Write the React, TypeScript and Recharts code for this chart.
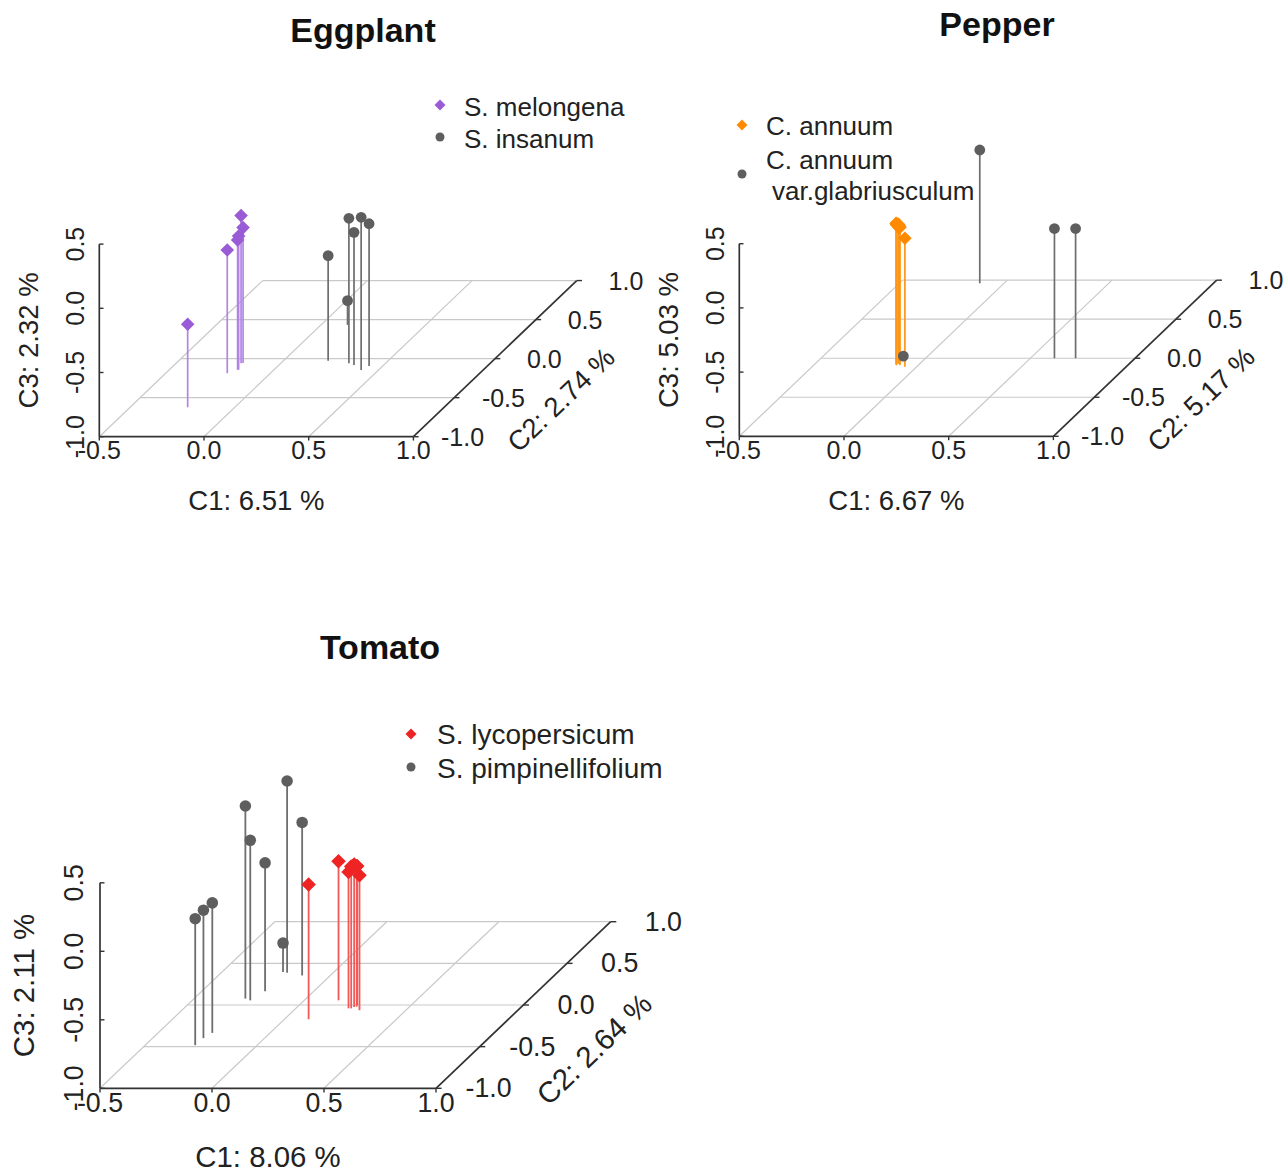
import React from "react";
import { ScatterChart, Scatter, XAxis, YAxis, ReferenceLine, ReferenceDot } from "recharts";

type P3 = [number, number, number]; // [C1, C2, C3]

// axis ticks shared by all three panels
const ticksC1 = [-0.5, 0, 0.5, 1];
const ticksC2 = [-1, -0.5, 0, 0.5, 1];
const ticksC3 = [-1, -0.5, 0, 0.5];

// --- Eggplant ---
const melongena: P3[] = [
  [-0.225, -0.623, -0.354],
  [-0.206, -0.187, -0.04],
  [-0.173, -0.145, 0.012],
  [-0.17, -0.14, 0.04],
  [-0.19, -0.059, 0.15],
  [-0.182, -0.055, 0.054],
];
const insanum: P3[] = [
  [0.213, -0.026, -0.182],
  [0.325, -0.059, 0.129],
  [0.358, -0.081, 0.033],
  [0.417, -0.145, 0.189],
  [0.435, -0.094, 0.108],
  [0.127, 0.432, -0.811],
];

// --- Pepper ---
const annuum: P3[] = [
  [-0.106, -0.064, 0.083],
  [-0.089, -0.086, 0.072],
  [-0.057, -0.108, 0.0],
  [-0.11, -0.08, 0.1],
  [-0.1, -0.07, 0.06],
  [-0.112, -0.07, 0.09],
  [-0.097, -0.075, 0.08],
  [-0.104, -0.09, 0.095],
];
const glabriusculum: P3[] = [
  [-0.116, 0.96, 0.038],
  [0.615, 0.0, 0.01],
  [0.716, 0.0, 0.01],
  [-0.098, -0.022, -0.97],
];

// --- Tomato ---
const lycopersicum: P3[] = [
  [0.108, -0.171, -0.016],
  [0.153, 0.056, 0.015],
  [0.235, -0.04, -0.005],
  [0.254, -0.024, 0.04],
  [0.258, 0.0, 0.015],
  [0.293, -0.063, -0.015],
  [0.247, -0.04, 0.036],
  [0.264, -0.02, 0.025],
];
const pimpinellifolium: P3[] = [
  [-0.277, -0.482, -0.077],
  [-0.273, -0.398, -0.066],
  [-0.258, -0.335, -0.051],
  [-0.271, 0.077, 0.406],
  [-0.241, 0.056, 0.168],
  [-0.217, 0.164, -0.062],
  [-0.206, 0.388, 0.399],
  [-0.227, 0.395, -0.788],
  [-0.126, 0.355, 0.117],
];

// oblique projection of the C2 axis (scatterplot3d style)
const KX = 0.39;
const KY = 0.608;
const proj = (x: number, y: number, z: number) => ({ u: x + KX * (y + 1), v: z + KY * (y + 1) });

const FONT = '"Liberation Sans", Arial, Helvetica, sans-serif';
const fmt = (n: number) => n.toFixed(1);

type Series = { name: string; color: string; lineColor: string; marker: "diamond" | "circle"; data: P3[] };
type PanelCfg = {
  left: number; top: number; width: number; height: number;
  ox: number; oy: number; ex: number; ez: number;
  labels: [string, string, string];
  series: Series[];
};

const Diamond = (cx: number, cy: number, r: number, fill: string) => (
  <polygon points={`${cx},${cy - r} ${cx + r},${cy} ${cx},${cy + r} ${cx - r},${cy}`} fill={fill} />
);

function textShape(label: string, size: number, rotate = 0) {
  return (props: any) => {
    const { cx, cy } = props;
    return (
      <text
        x={cx}
        y={cy}
        textAnchor="middle"
        dominantBaseline="central"
        fontSize={size}
        fontFamily={FONT}
        fill="#222"
        transform={rotate ? `rotate(${rotate} ${cx} ${cy})` : undefined}
      >
        {label}
      </text>
    );
  };
}

function Panel({ cfg }: { cfg: PanelCfg }) {
  const s = cfg.ex / 209.4;
  const umin = -0.5 - cfg.ox / cfg.ex;
  const umax = umin + cfg.width / cfg.ex;
  const vmax = -1 + cfg.oy / cfg.ez;
  const vmin = vmax - cfg.height / cfg.ez;

  const seg = (a: { u: number; v: number }, b: { u: number; v: number }) => [
    { x: a.u, y: a.v },
    { x: b.u, y: b.v },
  ];

  const grid = [
    ...[-0.5, 0, 0.5, 1].map((y) => seg(proj(-0.5, y, -1), proj(1, y, -1))),
    ...[-0.5, 0, 0.5].map((x) => seg(proj(x, -1, -1), proj(x, 1, -1))),
  ];
  const axes = [
    seg(proj(-0.5, -1, -1), proj(1, -1, -1)),
    seg(proj(-0.5, -1, -1), proj(-0.5, -1, 0.5)),
    seg(proj(1, -1, -1), proj(1, 1, -1)),
  ];
  const tickSegs = [
    ...ticksC1.map((t) => { const p = proj(t, -1, -1); return seg(p, { u: p.u, v: p.v - 0.03 }); }),
    ...ticksC3.map((t) => { const p = proj(-0.5, -1, t); return seg(p, { u: p.u + 0.02, v: p.v }); }),
    ...ticksC2.map((t) => { const p = proj(1, t, -1); return seg(p, { u: p.u + 0.025, v: p.v }); }),
  ];
  const yMid = proj(1, 0, -1);
  const yAngle = (-Math.atan2(KY * cfg.ez, KX * cfg.ex) * 180) / Math.PI;

  return (
    <div style={{ position: "absolute", left: cfg.left, top: cfg.top }}>
      <ScatterChart width={cfg.width} height={cfg.height} margin={{ top: 0, right: 0, bottom: 0, left: 0 }}>
        <XAxis type="number" dataKey="u" domain={[umin, umax]} allowDataOverflow hide />
        <YAxis type="number" dataKey="v" domain={[vmin, vmax]} allowDataOverflow hide />

        {grid.map((sg, i) => (
          <ReferenceLine key={`g${i}`} segment={sg} stroke="#c9c9c9" strokeWidth={1.2} ifOverflow="visible" />
        ))}
        {axes.map((sg, i) => (
          <ReferenceLine key={`a${i}`} segment={sg} stroke="#333" strokeWidth={1.7} ifOverflow="visible" />
        ))}
        {tickSegs.map((sg, i) => (
          <ReferenceLine key={`t${i}`} segment={sg} stroke="#333" strokeWidth={1.4} ifOverflow="visible" />
        ))}

        {cfg.series.map((sr) =>
          sr.data.map(([x, y, z], i) => (
            <ReferenceLine
              key={`${sr.name}-h${i}`}
              segment={seg(proj(x, y, -1), proj(x, y, z))}
              stroke={sr.lineColor}
              strokeWidth={1.7 * s}
              ifOverflow="visible"
            />
          ))
        )}

        {ticksC1.map((t) => {
          const p = proj(t, -1, -1);
          return <ReferenceDot key={`lx${t}`} x={p.u} y={p.v - 0.105} ifOverflow="visible" shape={textShape(fmt(t), 25 * s)} />;
        })}
        {ticksC3.map((t) => {
          const p = proj(-0.5, -1, t);
          return <ReferenceDot key={`lz${t}`} x={p.u - 0.115} y={p.v} ifOverflow="visible" shape={textShape(fmt(t), 25 * s, -90)} />;
        })}
        {ticksC2.map((t) => {
          const p = proj(1, t, -1);
          return <ReferenceDot key={`ly${t}`} x={p.u + 0.235} y={p.v} ifOverflow="visible" shape={textShape(fmt(t), 25 * s)} />;
        })}

        <ReferenceDot x={0.25} y={-1.5} ifOverflow="visible" shape={textShape(cfg.labels[0], 27.5 * s)} />
        <ReferenceDot x={yMid.u + 0.315} y={yMid.v - 0.32} ifOverflow="visible" shape={textShape(cfg.labels[1], 27.5 * s, yAngle)} />
        <ReferenceDot x={-0.84} y={-0.25} ifOverflow="visible" shape={textShape(cfg.labels[2], 27.5 * s, -90)} />

        {cfg.series.map((sr) => (
          <Scatter
            key={sr.name}
            name={sr.name}
            data={sr.data.map(([x, y, z]) => proj(x, y, z))}
            isAnimationActive={false}
            shape={(p: any) =>
              sr.marker === "diamond" ? (
                Diamond(p.cx, p.cy, 6.8 * s, sr.color)
              ) : (
                <circle cx={p.cx} cy={p.cy} r={5.4 * s} fill={sr.color} />
              )
            }
          />
        ))}
      </ScatterChart>
    </div>
  );
}

const PURPLE = "#9a5cd6";
const GRAY = "#5e5e5e";
const ORANGE = "#ff8a00";
const RED = "#ee2424";

const eggplant: PanelCfg = {
  left: 0, top: 0, width: 643, height: 545, ox: 99.3, oy: 436.7, ex: 209.4, ez: 128.4,
  labels: ["C1: 6.51 %", "C2: 2.74 %", "C3: 2.32 %"],
  series: [
    { name: "S. melongena", color: PURPLE, lineColor: "#b384e6", marker: "diamond", data: melongena },
    { name: "S. insanum", color: GRAY, lineColor: "#6e6e6e", marker: "circle", data: insanum },
  ],
};
const pepper: PanelCfg = {
  left: 643, top: 0, width: 644, height: 545, ox: 96.3, oy: 436.3, ex: 209.4, ez: 128.4,
  labels: ["C1: 6.67 %", "C2: 5.17 %", "C3: 5.03 %"],
  series: [
    { name: "C. annuum", color: ORANGE, lineColor: "#ff9416", marker: "diamond", data: annuum },
    { name: "C. annuum var.glabriusculum", color: GRAY, lineColor: "#6e6e6e", marker: "circle", data: glabriusculum },
  ],
};
const tomato: PanelCfg = {
  left: 0, top: 570, width: 700, height: 605, ox: 100, oy: 518.3, ex: 224, ez: 137,
  labels: ["C1: 8.06 %", "C2: 2.64 %", "C3: 2.11 %"],
  series: [
    { name: "S. lycopersicum", color: RED, lineColor: "#f25a5a", marker: "diamond", data: lycopersicum },
    { name: "S. pimpinellifolium", color: GRAY, lineColor: "#6e6e6e", marker: "circle", data: pimpinellifolium },
  ],
};

function Title({ text, cx, cy }: { text: string; cx: number; cy: number }) {
  return (
    <div style={{ position: "absolute", left: cx - 150, top: cy - 17, width: 300, textAlign: "center", fontFamily: FONT, fontWeight: 700, fontSize: 34, lineHeight: "34px", color: "#111" }}>
      {text}
    </div>
  );
}

function LegendItem({ x, y, marker, color, lines, size }: {
  x: number; y: number; marker: "diamond" | "circle"; color: string; lines: { text: string; y: number; x: number }[]; size: number;
}) {
  return (
    <>
      <svg style={{ position: "absolute", left: x - 7, top: y - 7 }} width={14} height={14}>
        {marker === "diamond" ? Diamond(7, 7, 5.5, color) : <circle cx={7} cy={7} r={4.5} fill={color} />}
      </svg>
      {lines.map((l) => (
        <div key={l.text} style={{ position: "absolute", left: l.x, top: l.y - size / 2, fontFamily: FONT, fontSize: size, lineHeight: `${size}px`, color: "#222", whiteSpace: "nowrap" }}>
          {l.text}
        </div>
      ))}
    </>
  );
}

export default function App() {
  return (
    <div style={{ position: "absolute", left: 0, top: 0, width: 1287, height: 1175, background: "#fff", overflow: "hidden" }}>
      <Panel cfg={eggplant} />
      <Panel cfg={pepper} />
      <Panel cfg={tomato} />

      <Title text="Eggplant" cx={363} cy={30} />
      <Title text="Pepper" cx={997} cy={24} />
      <Title text="Tomato" cx={380} cy={647} />

      <LegendItem x={440} y={105} marker="diamond" color={PURPLE} size={26} lines={[{ text: "S. melongena", x: 464, y: 107 }]} />
      <LegendItem x={440} y={137} marker="circle" color={GRAY} size={26} lines={[{ text: "S. insanum", x: 464, y: 139 }]} />

      <LegendItem x={742} y={125} marker="diamond" color={ORANGE} size={26} lines={[{ text: "C. annuum", x: 766, y: 126 }]} />
      <LegendItem x={742} y={174} marker="circle" color={GRAY} size={26} lines={[{ text: "C. annuum", x: 766, y: 160 }, { text: "var.glabriusculum", x: 772, y: 191 }]} />

      <LegendItem x={411} y={734} marker="diamond" color={RED} size={28} lines={[{ text: "S. lycopersicum", x: 437, y: 735 }]} />
      <LegendItem x={411} y={767} marker="circle" color={GRAY} size={28} lines={[{ text: "S. pimpinellifolium", x: 437, y: 769 }]} />
    </div>
  );
}
